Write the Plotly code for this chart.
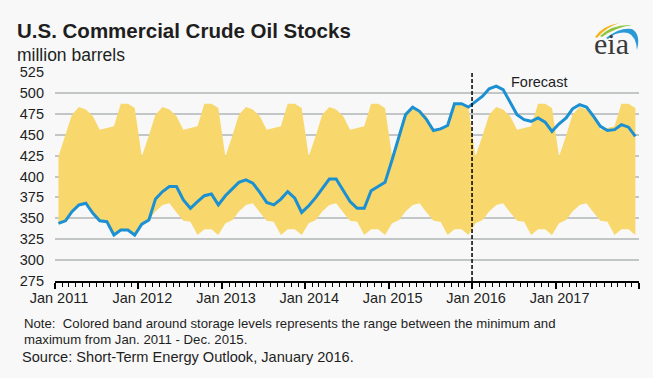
import pandas as pd
import plotly.graph_objects as go

# ---------------- data ----------------
months = pd.date_range("2011-01-01", periods=84, freq="MS") + pd.Timedelta(days=15)

stocks = [
    344, 347, 358, 366, 368, 356, 347, 346, 330, 336, 336, 330,   # 2011
    343, 348, 373, 382, 388, 388, 372, 362, 370, 377, 379, 366,   # 2012
    377, 385, 393, 396, 392, 381, 369, 366, 373, 382, 374, 357,   # 2013
    365, 375, 386, 397, 397, 383, 370, 362, 362, 383, 388, 393,   # 2014
    420, 447, 474, 483, 478, 468, 455, 457, 461, 487, 487, 483,   # 2015
    490, 496, 505, 508, 504, 489, 474, 468, 466, 470, 465, 454,   # 2016 (forecast)
    463, 470, 481, 486, 483, 472, 460, 455, 456, 462, 459, 448,   # 2017 (forecast)
]

# monthly min / max range (Jan..Dec), repeated for every year shown
band_min = [344, 348, 358, 366, 368, 357, 347, 346, 330, 337, 337, 330]
band_max = [424, 449, 474, 483, 480, 472, 456, 458, 460, 487, 487, 482]

year_ticks = ["2011-01-01", "2012-01-01", "2013-01-01", "2014-01-01",
              "2015-01-01", "2016-01-01", "2017-01-01", "2018-01-01"]
year_labels = ["Jan 2011", "Jan 2012", "Jan 2013", "Jan 2014",
               "Jan 2015", "Jan 2016", "Jan 2017", ""]
y_ticks = list(range(275, 526, 25))
forecast_start = "2016-01-01"

n_years = len(months) // 12
lower = band_min * n_years
upper = band_max * n_years

# ---------------- layout helpers ----------------
W_FIG, H_FIG = 653, 378
L, R, T, B = 55, 14, 72, 97
PW, PH = W_FIG - L - R, H_FIG - T - B


def px(x):
    return (x - L) / PW


def py(y):
    return 1 - (y - T) / PH


FONT = "Liberation Sans, Arial, Helvetica, sans-serif"
BAND = "#f8d76c"
BLUE = "#1b90d2"
BG = "#f8f8f8"
TXT = "#1e1e1e"

fig = go.Figure()
fig.add_trace(go.Scatter(x=months, y=lower, mode="lines", line=dict(width=0, color=BAND),
                         hoverinfo="skip", showlegend=False))
fig.add_trace(go.Scatter(x=months, y=upper, mode="lines", line=dict(width=0, color=BAND),
                         fill="tonexty", fillcolor=BAND, hoverinfo="skip", showlegend=False))
fig.add_trace(go.Scatter(x=months, y=stocks, mode="lines",
                         line=dict(width=3, color=BLUE), showlegend=False))

# forecast divider
fig.add_shape(type="line", xref="x", yref="y", x0=forecast_start, x1=forecast_start,
              y0=275, y1=527, line=dict(color="black", width=1.5, dash="4px,2px"))


def path_from(points_cmds):
    out = []
    for cmd, pts in points_cmds:
        s = cmd
        if pts:
            s += " " + " ".join(f"{px(x):.5f},{py(y):.5f}" for x, y in pts)
        out.append(s)
    return " ".join(out)


# eia logo swooshes (decoration)
fig.add_shape(type="path", xref="paper", yref="paper", line=dict(width=0),
              fillcolor="#f3b51c",
              path=path_from([("M", [(595, 37)]), ("Q", [(602, 26), (619, 23)]),
                              ("Q", [(605, 28), (597, 38)]), ("Z", [])]))
fig.add_shape(type="path", xref="paper", yref="paper", line=dict(width=0),
              fillcolor="#8cc63f",
              path=path_from([("M", [(600, 36)]), ("Q", [(612, 24), (632, 25)]),
                              ("Q", [(614, 28), (602, 37)]), ("Z", [])]))
fig.add_shape(type="path", xref="paper", yref="paper", line=dict(width=0),
              fillcolor="#2a9ad6",
              path=path_from([("M", [(606, 38)]), ("Q", [(620, 27), (632, 29)]),
                              ("Q", [(641, 34), (637, 50)]), ("Q", [(636, 36), (628, 33)]),
                              ("Q", [(617, 31), (608, 39)]), ("Z", [])]))

annotations = [
    dict(text="<b>U.S. Commercial Crude Oil Stocks</b>", x=px(15), y=py(30),
         font=dict(size=20.5, color=TXT)),
    dict(text="million barrels", x=px(15), y=py(55), font=dict(size=17.5, color=TXT)),
    dict(text="Forecast", x=px(509), y=py(82), font=dict(size=14.5, color=TXT)),
    dict(text="Note:  Colored band around storage levels represents the range between the minimum and",
         x=px(22), y=py(323), font=dict(size=13.2, color=TXT)),
    dict(text="maximum from Jan. 2011 - Dec. 2015.", x=px(22), y=py(339),
         font=dict(size=13.2, color=TXT)),
    dict(text="Source: Short-Term Energy Outlook, January 2016.", x=px(20), y=py(357),
         font=dict(size=14.6, color=TXT)),
    dict(text="eia", x=px(611), y=py(44), xanchor="center",
         font=dict(size=30, color="#3a3a3a", family="Liberation Serif, Times New Roman, serif")),
]
for a in annotations:
    a.setdefault("xanchor", "left")
    a.update(xref="paper", yref="paper", yanchor="middle", showarrow=False)
    a["font"].setdefault("family", FONT)

fig.update_layout(
    width=W_FIG, height=H_FIG,
    margin=dict(l=L, r=R, t=T, b=B, pad=0),
    paper_bgcolor=BG, plot_bgcolor=BG,
    font=dict(family=FONT, color=TXT),
    showlegend=False,
    annotations=annotations,
    xaxis=dict(
        type="date", range=["2011-01-01", "2018-01-01"],
        tickmode="array", tickvals=year_ticks, ticktext=year_labels,
        ticks="outside", ticklen=6, tickwidth=1.5, tickcolor="black",
        showline=True, linecolor="black", linewidth=2,
        showgrid=False, zeroline=False,
        tickfont=dict(size=14.5, color=TXT),
        ticklabelshift=4, ticklabelstandoff=-3,
        minor=dict(tickmode="linear", tick0="2011-01-01", dtick="M1",
                   ticks="outside", ticklen=4, tickwidth=1, tickcolor="black", showgrid=False),
    ),
    yaxis=dict(
        range=[275, 525], tickmode="array", tickvals=y_ticks,
        showgrid=True, gridcolor="#c3c6c6", gridwidth=1.5,
        zeroline=False, showline=False, ticks="",
        tickfont=dict(size=14.5, color=TXT),
        ticklabelstandoff=10,
    ),
)

fig.write_html(
    "out.html",
    config={"displayModeBar": False},
    post_script="document.body.style.margin='0';document.body.style.background='%s';" % BG,
)
